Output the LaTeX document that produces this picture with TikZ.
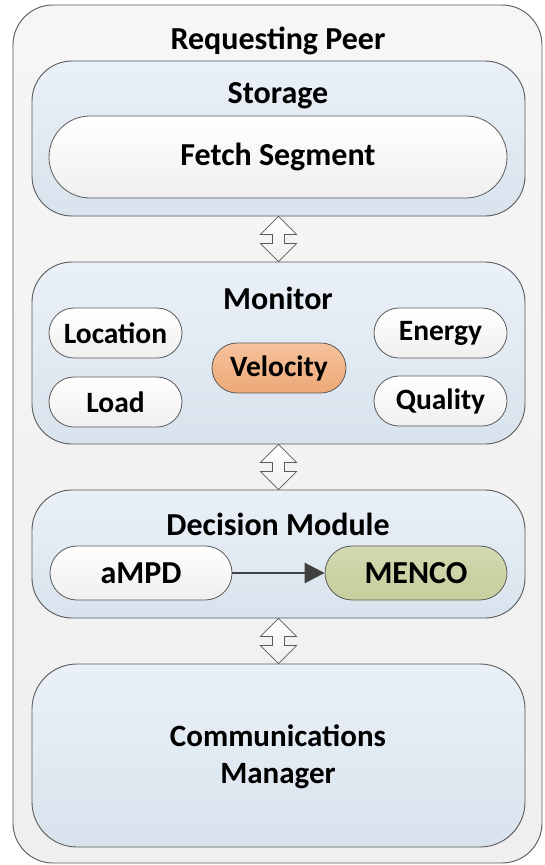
\documentclass[tikz,border=0pt]{standalone}
\usepackage{fontspec}
\setmainfont{Carlito}
\usetikzlibrary{arrows.meta,calc}
\definecolor{edge}{HTML}{5A5A5A}
\definecolor{outtop}{HTML}{F6F6F6}
\definecolor{outbot}{HTML}{EFEFEF}
\definecolor{bluetop}{HTML}{EAF0F7}
\definecolor{bluebot}{HTML}{D9E3ED}
\definecolor{whtop}{HTML}{FFFFFF}
\definecolor{whbot}{HTML}{EFEFEF}
\definecolor{ortop}{HTML}{F6C29C}
\definecolor{orbot}{HTML}{EDA877}
\definecolor{grtop}{HTML}{D3DAB0}
\definecolor{grbot}{HTML}{C5CE9C}
\definecolor{arr}{HTML}{404040}
\tikzset{
  lbl/.style={font=\fontsize{32}{37}\selectfont\bfseries, text=black, inner sep=0pt},
  small/.style={font=\fontsize{29.5}{35}\selectfont\bfseries},
  outerbox/.style={draw=edge, line width=0.9pt, rounded corners=40pt, top color=outtop, bottom color=outbot, inner sep=0pt},
  panel/.style={draw=edge, line width=0.9pt, rounded corners=40pt, top color=bluetop, bottom color=bluebot, inner sep=0pt, minimum width=493pt},
  pill/.style={draw=edge, line width=0.8pt, top color=whtop, bottom color=whbot, lbl},
  velpill/.style={pill, top color=ortop, bottom color=orbot},
  menpill/.style={pill, top color=grtop, bottom color=grbot},
  arrowbox/.style={draw=edge, line width=0.7pt, top color=white, bottom color=whbot},
  flow/.style={draw=arr, line width=2.8pt, -{Triangle[length=20pt,width=20pt]}}
}
\newcommand\dblarrow[2]{%
  \path (#1.south) coordinate (t) (#2.north) coordinate (b);
  \path[arrowbox] (t) -- ($(t)+(18,18)$) -- ($(t)+(6,18)$) -- ($(b)+(6,-18)$) -- ($(b)+(18,-18)$) -- (b)
    -- ($(b)+(-18,-18)$) -- ($(b)+(-6,-18)$) -- ($(t)+(-6,18)$) -- ($(t)+(-18,18)$) -- cycle;
}
\begin{document}
\begin{tikzpicture}[x=1pt,y=-1pt]
\useasboundingbox (0,0) rectangle (544,865);
% outer
\node[outerbox, minimum width=529pt, minimum height=858pt] (peer) at (277.5,434) {};
\node[lbl] (peert) at (278,41) {Requesting Peer};
% storage
\node[panel, minimum height=155pt] (storage) at (278.5,138.5) {};
\node[lbl] (storaget) at (278,96) {Storage};
\node[pill, rounded corners=41pt, minimum width=458pt, minimum height=82pt] (fetch) at (278,157) {Fetch Segment};
% monitor
\node[panel, minimum height=182pt] (monitor) at (278.5,353) {};
\node[lbl] (monitort) at (278,298) {Monitor};
\node[pill, small, rounded corners=25pt, minimum width=133pt, minimum height=50pt] (loc) at (115.5,333) {Location};
\node[pill, small, rounded corners=25pt, minimum width=133pt, minimum height=50pt] (load) at (115.5,402) {Load};
\node[pill, small, rounded corners=25pt, minimum width=133pt, minimum height=50pt] (energy) at (440.5,333) {Energy};
\node[pill, small, rounded corners=25pt, minimum width=133pt, minimum height=50pt] (quality) at (440.5,401) {Quality};
\node[velpill, small, rounded corners=25pt, minimum width=134pt, minimum height=50pt] (vel) at (279,368) {Velocity};
% decision
\node[panel, minimum height=128pt] (decision) at (278.5,554) {};
\node[lbl] (decisiont) at (278,524) {Decision Module};
\node[pill, rounded corners=27pt, minimum width=182pt, minimum height=54pt] (ampd) at (141,573) {aMPD};
\node[menpill, rounded corners=27pt, minimum width=182pt, minimum height=54pt] (menco) at (416,573) {MENCO};
\draw[flow] (ampd) -- (menco);
% communications
\node[panel, rounded corners=45pt, minimum height=183pt] (comm) at (278.5,755.5) {};
\node[lbl, font=\fontsize{31}{37}\selectfont\bfseries, align=center] (commt) at (278,757) {Communications\\Manager};
% double arrows
\dblarrow{storage}{monitor}
\dblarrow{monitor}{decision}
\dblarrow{decision}{comm}
\end{tikzpicture}
\end{document}
